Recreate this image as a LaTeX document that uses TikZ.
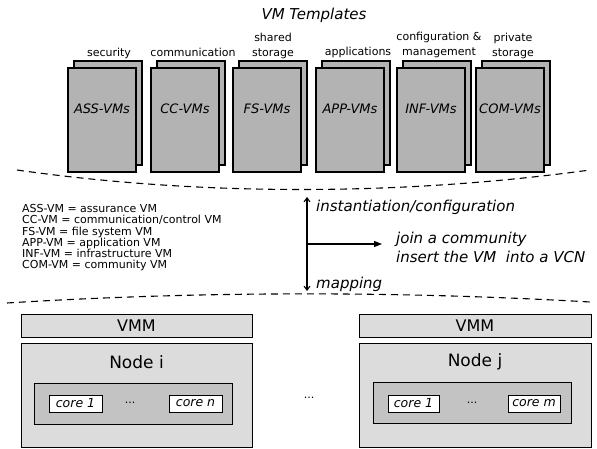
\documentclass[tikz,border=0pt]{standalone}
\usepackage{fontspec}
\setmainfont{DejaVu Sans}
\usetikzlibrary{arrows.meta}
\definecolor{tmpl}{HTML}{B3B3B3}
\definecolor{nodefill}{HTML}{DCDCDC}
\definecolor{innerfill}{HTML}{C3C3C3}
\tikzset{
  tbox/.style={draw=black, line width=1.2pt, fill=tmpl, minimum width=68pt, minimum height=104pt, inner sep=0pt},
  tlabel/.style={font=\fontsize{13}{15}\selectfont\itshape, inner sep=0pt},
  cat/.style={font=\fontsize{11}{15}\selectfont, align=center, anchor=base, inner sep=0pt},
  hwbox/.style={draw=black, line width=1pt, fill=nodefill},
  innerbox/.style={draw=black, line width=1pt, fill=innerfill},
  corebox/.style={draw=black, line width=1pt, fill=white, font=\fontsize{12.5}{14}\selectfont\itshape, inner sep=0pt},
  bigtxt/.style={font=\fontsize{16}{18}\selectfont, inner sep=0pt},
  itxt/.style={font=\fontsize{15}{19}\selectfont\itshape, inner sep=0pt},
  sep/.style={dash pattern=on 7pt off 5pt, line width=1.1pt},
}
\begin{document}
\begin{tikzpicture}[x=1pt,y=-1pt]
\useasboundingbox (0,0) rectangle (597,449);
% title
\node[itxt] (title) at (314,15) {VM Templates};
% templates
\foreach \x/\nm/\txt in {68/ass/ASS-VMs, 151/cc/CC-VMs, 233/fs/FS-VMs, 316/app/APP-VMs, 397/inf/INF-VMs, 476/com/COM-VMs}{
  \node[tbox] (\nm back) at (\x+6+34,61+52) {};
  \node[tbox] (\nm) at (\x+34,68+52) {};
  \node[tlabel] (\nm txt) at (\x+34,109) {\txt};
}
\node[cat] (l1) at (109,56.5) {security};
\node[cat] (l2) at (193,56.5) {communication};
\node[cat] (l3) at (273,56.5) {shared\\storage};
\node[cat] (l4) at (358,56) {applications};
\node[cat] (l5) at (439,56) {configuration \&\\management};
\node[cat] (l6) at (513,56.5) {private\\storage};
% separators
\draw[sep] (17,170) .. controls (200,196) and (400,196) .. (590,170);
\draw[sep] (7,303) .. controls (200,291) and (400,291) .. (590,302);
% legend
\node[font=\fontsize{11}{11.1}\selectfont, align=left, anchor=north west, inner sep=0pt] (legend) at (22,204.5) {ASS-VM = assurance VM\\CC-VM = communication/control VM\\FS-VM = file system VM\\APP-VM = application VM\\INF-VM = infrastructure VM\\COM-VM = community VM};
% arrows
\coordinate (atop) at (307,197);
\coordinate (abot) at (307,291);
\coordinate (amid) at (307,244);
\draw[line width=1.1pt, {Straight Barb[length=4pt,width=6pt]}-{Straight Barb[length=4pt,width=6pt]}] (atop) -- (abot);
\node[itxt, anchor=west] (inst) at (316,207) {instantiation/configuration};
\node[itxt, anchor=west] (map) at (316,284) {mapping};
\node[itxt, anchor=west, align=left] (join) at (396,247.5) {join a community\\insert the VM\ \ into a VCN};
\draw[line width=1.1pt, -{Triangle[length=8pt,width=6pt]}] (amid) -- (382,244) coordinate (aend);
% hardware left
\node[hwbox, minimum width=231pt, minimum height=23pt, inner sep=0pt] (vmmi) at (136.5,326) {};
\node[bigtxt] (vmmitxt) at (136.5,326) {VMM};
\node[hwbox, minimum width=231pt, minimum height=104pt, inner sep=0pt] (nodei) at (136.5,395) {};
\node[bigtxt, font=\fontsize{17}{19}\selectfont] (nodeitxt) at (136.5,362) {Node i};
\node[innerbox, minimum width=198pt, minimum height=41pt, inner sep=0pt] (inneri) at (133,403.5) {};
\node[corebox, minimum width=53pt, minimum height=17pt] (ci1) at (75.5,403.5) {core 1};
\node[corebox, minimum width=53pt, minimum height=17pt] (cin) at (195.5,403.5) {core n};
\node[font=\fontsize{11}{12}\selectfont, inner sep=0pt] (doti) at (130,403) {...};
% middle dots
\node[font=\fontsize{11}{12}\selectfont, inner sep=0pt] (dotmid) at (309,398) {...};
% hardware right
\node[hwbox, minimum width=232pt, minimum height=23pt, inner sep=0pt] (vmmj) at (475,326) {};
\node[bigtxt] (vmmjtxt) at (475,326) {VMM};
\node[hwbox, minimum width=232pt, minimum height=104pt, inner sep=0pt] (nodej) at (475,395) {};
\node[bigtxt, font=\fontsize{17}{19}\selectfont] (nodejtxt) at (475,362) {Node j};
\node[innerbox, minimum width=198pt, minimum height=41pt, inner sep=0pt] (innerj) at (472,403) {};
\node[corebox, minimum width=51pt, minimum height=17pt] (cj1) at (413.5,403.5) {core 1};
\node[corebox, minimum width=52pt, minimum height=17pt] (cjm) at (534,403.5) {core m};
\node[font=\fontsize{11}{12}\selectfont, inner sep=0pt] (dotj) at (472,403) {...};
\end{tikzpicture}
\end{document}
